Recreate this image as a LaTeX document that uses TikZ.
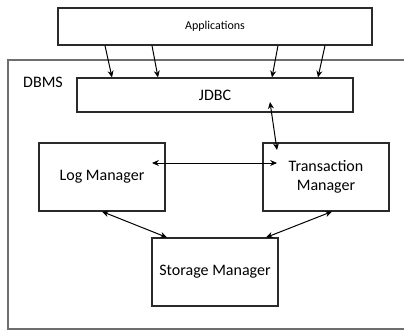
\documentclass[tikz,border=0pt]{standalone}
\usepackage{fontspec}
\setmainfont{Carlito}
\usetikzlibrary{arrows.meta,calc}
\definecolor{rahmen}{HTML}{6E6E6E}
\definecolor{linie}{HTML}{2A2A2A}
\tikzset{
  box/.style={draw=linie,line width=0.55pt,minimum width=63pt,minimum height=34pt,align=center,inner sep=2pt,font=\fontsize{8}{9.8}\selectfont},
  pfeil/.style={-{Stealth[length=3.4pt,width=3pt]},line width=0.5pt},
  dpfeil/.style={{Stealth[length=3.4pt,width=3pt]}-{Stealth[length=3.4pt,width=3pt]},line width=0.5pt},
}

\begin{document}
\begin{tikzpicture}[x=1pt,y=-1pt]
  \useasboundingbox (0,0) rectangle (202,166.5);
  % outer frame, open on the right
  \draw[rahmen,line width=0.7pt] (203,30) -| (4,164.5) -- (203,164.5);
  \node[font=\fontsize{8}{9.6}\selectfont] (dbms) at (21.5,41) {DBMS};
  \node[box,minimum width=157pt,minimum height=18.5pt,font=\fontsize{6}{7}\selectfont] (apps) at (107.5,13.25) {Applications};
  \node[box,minimum width=138pt,minimum height=17pt] (jdbc) at (107.5,47.5) {JDBC};
  \node[box] (logm) at (51,88.5) {Log Manager};
  \node[box] (trans) at (163,88.5) {Transaction\\Manager};
  \node[box] (stor) at (107.5,136) {Storage Manager};
  \foreach \dx/\ex in {-55/-51.5,-31.5/-28.5,31.5/28.5,55/51.5}
    \draw[pfeil] ([xshift=\dx pt]apps.south) -- ([xshift=\ex pt]jdbc.north);
  \draw[dpfeil] ($(jdbc.center)+(27.5,3.5)$) -- ($(trans.center)+(-24.5,-13.5)$);
  \draw[dpfeil] ($(logm.center)+(25,-7)$) -- ($(trans.center)+(-24.5,-7)$);
  \draw[dpfeil] (logm.south) -- ([xshift=-24pt]stor.north);
  \draw[dpfeil] ([xshift=3pt]trans.south) -- ([xshift=25.5pt]stor.north);
\end{tikzpicture}
\end{document}
